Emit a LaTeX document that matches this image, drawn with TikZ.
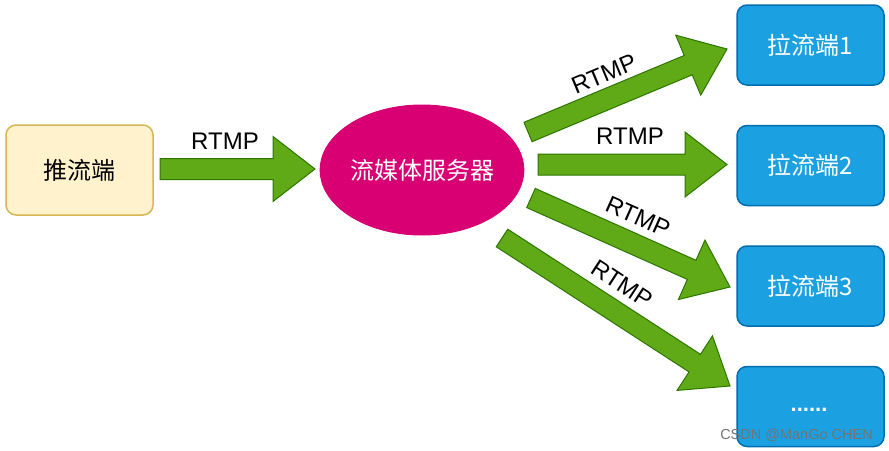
\documentclass[tikz,border=0pt]{standalone}
\usepackage{fontspec}
\setmainfont{Liberation Sans}
\newfontfamily\cjk{Noto Sans CJK SC}
\usetikzlibrary{positioning,shapes.geometric,calc}

\definecolor{pushfill}{HTML}{FFF2CC}
\definecolor{pushline}{HTML}{D6B656}
\definecolor{srvfill}{HTML}{D80073}
\definecolor{srvline}{HTML}{A50040}
\definecolor{pullfill}{HTML}{1BA1E2}
\definecolor{pullline}{HTML}{006EAF}
\definecolor{flowfill}{HTML}{60A917}
\definecolor{flowline}{HTML}{2D7600}

% flat block arrow from tail #1 to tip #2
\newcommand{\flowarrow}[2]{%
  \coordinate (hb) at ($(#2)!42pt!(#1)$);
  \draw[flow] ($(#1)!10.5pt!90:(#2)$) -- ($(hb)!10.5pt!-90:(#1)$)
    -- ($(hb)!32.5pt!-90:(#1)$) -- (#2) -- ($(hb)!32.5pt!90:(#1)$)
    -- ($(hb)!10.5pt!90:(#1)$) -- ($(#1)!10.5pt!-90:(#2)$) -- cycle;}

\begin{document}
\begin{tikzpicture}[x=1pt,y=-1pt,
    box/.style={draw, rounded corners=10pt, line width=1.5pt, inner sep=0pt,
      minimum width=147pt, font=\cjk\fontsize{24}{28}\selectfont},
    push/.style={box, fill=pushfill, draw=pushline, minimum height=90pt},
    pull/.style={box, fill=pullfill, draw=pullline, text=white, minimum height=80pt},
    flow/.style={fill=flowfill, draw=flowline, line width=1pt},
    proto/.style={font=\fontsize{24}{28}\selectfont}]
  \useasboundingbox (0,0) rectangle (889,450);

  % sender, server, receivers
  \node[push] (push) at (79.5,170) {推流端};
  \node[ellipse, fill=srvfill, draw=srvfill, line width=1pt, inner sep=0pt,
    minimum width=200pt, minimum height=130pt, text=white,
    font=\cjk\fontsize{24}{28}\selectfont] (server) at (422,170) {流媒体服务器};

  \node[pull] (pull1) at (810.5,45) {拉流端1};
  \node[pull, below=39pt of pull1] (pull2) {拉流端2};
  \node[pull, below=39pt of pull2] (pull3) {拉流端3};
  \node[pull, below=39pt of pull3] (pull4) {};
  \node[text=white, font=\bfseries\fontsize{22}{26}\selectfont] (dots) at (809,410) {......};

  % arrow ends
  \coordinate (t0) at (160,169);   \coordinate (h0) at (315,169);
  \coordinate (t1) at (528,132);   \coordinate (h1) at (727,49);
  \coordinate (t2) at (538,164.5); \coordinate (h2) at (727,164.5);
  \coordinate (t3) at (531,198);   \coordinate (h3) at (730,287);
  \coordinate (t4) at (502,238);   \coordinate (h4) at (730,386);

  \flowarrow{t0}{h0}
  \flowarrow{t1}{h1}
  \flowarrow{t2}{h2}
  \flowarrow{t3}{h3}
  \flowarrow{t4}{h4}

  % labels
  \node[proto] (l0) at (225,141) {RTMP};
  \node[proto, rotate=22.6] (l1) at (604,74) {RTMP};
  \node[proto] (l2) at (630,136) {RTMP};
  \node[proto, rotate=-24] (l3) at (638,217) {RTMP};
  \node[proto, rotate=-33] (l4) at (622,284) {RTMP};

  \node[text=gray!90!black, font=\fontsize{14.5}{16}\selectfont] (mark) at (796.5,435) {CSDN @ManGo CHEN};
\end{tikzpicture}
\end{document}
